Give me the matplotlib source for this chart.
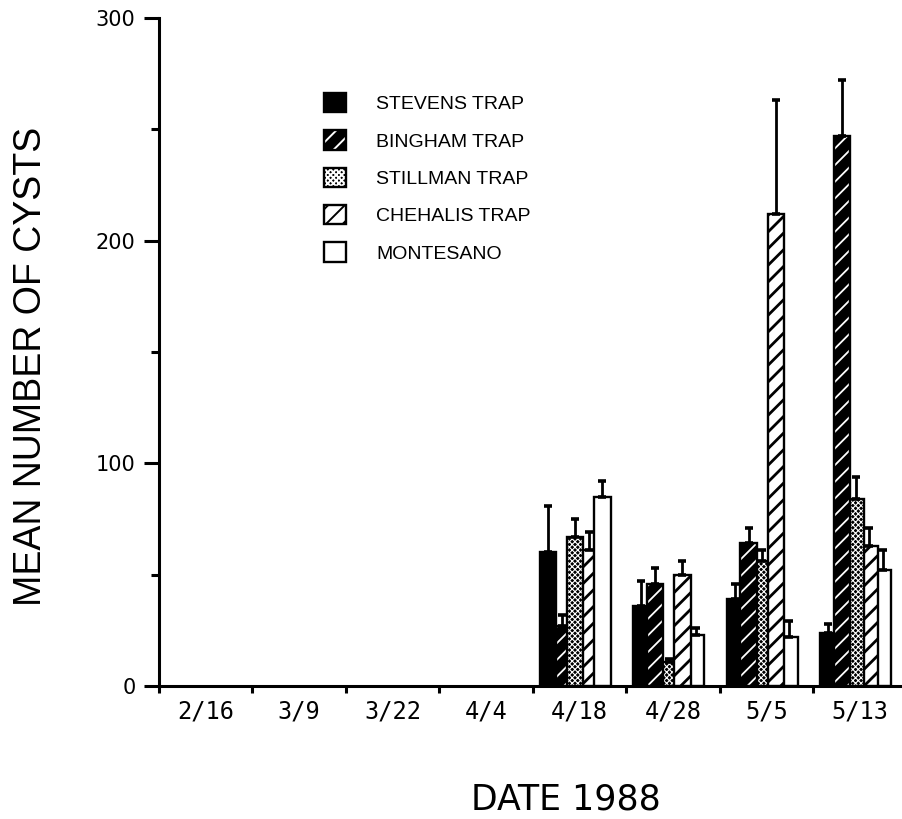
import numpy as np
import matplotlib
matplotlib.use("Agg")
import matplotlib.pyplot as plt
from matplotlib.patches import Patch
from matplotlib.legend_handler import HandlerTuple

# Sampling dates and trap sites
dates = ["2/16", "3/9", "3/22", "4/4", "4/18", "4/28", "5/5", "5/13"]
traps = ["STEVENS TRAP", "BINGHAM TRAP", "STILLMAN TRAP", "CHEHALIS TRAP", "MONTESANO"]

# Mean cyst counts per trap (None = no bar drawn)
stevens   = [None, None, None, None, 60, 36, 39, 24]
bingham   = [None, None, None, None, 27, 46, 64, 247]
stillman  = [None, None, None, None, 67, 11, 56, 84]
chehalis  = [None, None, None, None, 61, 50, 212, 63]
montesano = [None, None, None, None, 85, 23, 22, 52]

# Upper error (standard error) for each mean
stevens_err   = [0, 0, 0, 0, 21, 11, 7, 4]
bingham_err   = [0, 0, 0, 0, 5, 7, 7, 25]
stillman_err  = [0, 0, 0, 0, 8, 1, 5, 10]
chehalis_err  = [0, 0, 0, 0, 8, 6, 51, 8]
montesano_err = [0, 0, 0, 0, 7, 3, 7, 9]

series = [stevens, bingham, stillman, chehalis, montesano]
errors = [stevens_err, bingham_err, stillman_err, chehalis_err, montesano_err]

# fill colour, hatch colour, hatch pattern, hatch line width
styles = [
    ("black", "black", "", 1.0),
    ("black", "white", "//", 1.3),
    ("black", "white", "xxxxxx", 0.8),
    ("white", "black", "//", 2.0),
    ("white", "white", "", 1.0),
]

plt.rcParams["font.family"] = ["Liberation Sans", "DejaVu Sans"]
plt.rcParams["hatch.linewidth"] = 1.4


def hatched_patch(patch, hlw):
    if hasattr(patch, "set_hatch_linewidth"):
        patch.set_hatch_linewidth(hlw)


fig = plt.figure(figsize=(9.03, 8.19), dpi=100)
ax = fig.add_axes([159 / 903, 133 / 819, 748 / 903, 668 / 819])

width = 0.1765
pitch = 0.1455
first = 0.160

for i, (vals, errs, (fc, hc, hatch, hlw)) in enumerate(zip(series, errors, styles)):
    for g, (v, e) in enumerate(zip(vals, errs)):
        if v is None:
            continue
        x = g + first + i * pitch
        z = 2 + v / 1000.0
        bars = ax.bar(x, v, width=width, color=fc, edgecolor=hc, hatch=hatch,
                      linewidth=0, zorder=z)
        for p in bars:
            hatched_patch(p, hlw)
        ax.bar(x, v, width=width, fill=False, edgecolor="black",
               linewidth=1.7, zorder=z + 0.0001)
        if e > 0:
            ax.errorbar(x, v, yerr=[[0], [e]], fmt="none", ecolor="black",
                        elinewidth=2.0, capsize=3.2, capthick=2.6,
                        zorder=z + 0.0002)

ax.set_xlim(0, 8)
ax.set_ylim(0, 300)

ax.spines["top"].set_visible(False)
ax.spines["right"].set_visible(False)
ax.spines["left"].set_linewidth(2.2)
ax.spines["bottom"].set_linewidth(2.2)

# category boundaries carry the x ticks; labels sit at the group centres
ax.set_xticks(np.arange(0, 8))
ax.set_xticklabels([])
ax.set_xticks(np.arange(8) + 0.5, minor=True)
ax.set_xticklabels(dates, minor=True, fontsize=17)
ax.tick_params(axis="x", which="major", direction="out", length=5, width=2.2)
ax.tick_params(axis="x", which="minor", length=0, pad=10)

ax.set_yticks([0, 100, 200, 300])
ax.set_yticklabels(["0", "100", "200", "300"], fontsize=15)
ax.set_yticks([50, 150, 250], minor=True)
ax.tick_params(axis="y", which="major", direction="out", length=11, width=2.2, pad=6)
ax.tick_params(axis="y", which="minor", direction="out", length=6, width=2.2)

for lbl in ax.get_xticklabels(minor=True):
    lbl.set_fontfamily("DejaVu Sans Mono")
for lbl in ax.get_yticklabels():
    lbl.set_fontfamily("DejaVu Sans")

fig.text(31 / 903, 1 - 366 / 819, "MEAN NUMBER OF CYSTS", rotation=90,
         ha="center", va="center", fontsize=27)
fig.text(566 / 903, 1 - 800 / 819, "DATE 1988", ha="center", va="center",
         fontsize=25, family="DejaVu Sans")

# legend handles: hatched fill under a black outline
handles = []
for fc, hc, hatch, hlw in styles:
    fill = Patch(facecolor=fc, edgecolor=hc, hatch=hatch, linewidth=0)
    hatched_patch(fill, hlw)
    outline = Patch(fill=False, edgecolor="black", linewidth=1.7)
    handles.append((fill, outline))

ax.legend(handles, traps, loc="upper left",
          bbox_to_anchor=(324 / 903, 1 - 93 / 819), bbox_transform=fig.transFigure,
          frameon=False, fontsize=14, handlelength=1.15, handleheight=1.15,
          handletextpad=1.55, labelspacing=0.88, borderpad=0, borderaxespad=0,
          handler_map={tuple: HandlerTuple(ndivide=1, pad=0)})

fig.savefig("out.png", dpi=100)
